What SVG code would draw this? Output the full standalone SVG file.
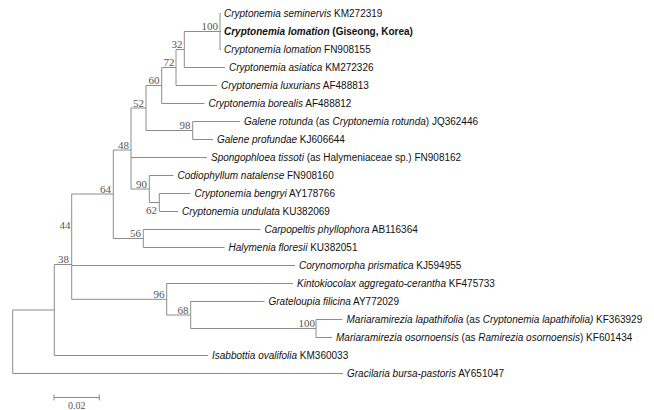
<svg xmlns="http://www.w3.org/2000/svg" width="654" height="410" viewBox="0 0 654 410">
<style>
.br{fill:none;stroke:#8c8c8c;stroke-width:1}
.lf{font-family:"Liberation Sans",Arial,sans-serif;font-size:10px;fill:#111}
.i{font-style:italic}
.b{font-weight:bold}
.bs{font-family:"Liberation Serif","Times New Roman",serif;font-size:11px;fill:#555;text-anchor:end}
.sc{font-family:"Liberation Serif","Times New Roman",serif;font-size:10px;fill:#555;text-anchor:middle}
</style>
<rect width="654" height="410" fill="#fff"/>
<g id="connectors" class="br">
<path d="M12.7 310V373.5M12.7 310H54.3M12.7 373.5H343"/>
<path d="M54.3 264.5V355.5M54.3 264.5H71.7M54.3 355.5H208"/>
<path d="M71.7 194V299.3M71.7 299.3H166.7M71.7 265.5H295M71.7 194H113.3"/>
<path d="M113.3 150V238.5M113.3 150H131M113.3 238.5H143.3"/>
<path d="M131 108V189M131 108H146M131 157.5H207M131 189H149.3"/>
<path d="M146 85.5V130.5M146 85.5H161.7M146 130.5H192.7"/>
<path d="M161.7 67.5V103.5M161.7 67.5H176M161.7 103.5H204.5"/>
<path d="M176 49.5V85.5M176 49.5H184.3M176 85.5H217"/>
<path d="M184.3 31.5V67.5M184.3 31.5H220M184.3 67.5H225"/>
<path d="M220 13.5V49.5M220 13.5H221M220 31.5H221M220 49.5H221"/>
<path d="M192.7 121.5V139.5M192.7 121.5H240M192.7 139.5H213"/>
<path d="M149.3 175.5V202.5M149.3 175.5H173.5M149.3 202.5H159.3"/>
<path d="M159.3 193.5V211.5M159.3 193.5H190.5M159.3 211.5H178"/>
<path d="M143.3 229.5V247.5M143.3 229.5H260.5M143.3 247.5H224.5"/>
<path d="M166.7 283.5V315M166.7 283.5H293M166.7 315H190.7"/>
<path d="M190.7 301.5V328.5M190.7 301.5H264.5M190.7 328.5H316"/>
<path d="M316 319.5V337.5M316 319.5H342.5M316 337.5H332"/>
</g>
<g id="n100a"><text class="bs" x="218" y="30">100</text></g>
<g id="n32"><text class="bs" x="182.5" y="48">32</text></g>
<g id="n72"><text class="bs" x="174.5" y="66">72</text></g>
<g id="n60"><text class="bs" x="159.5" y="84">60</text></g>
<g id="n52"><text class="bs" x="144" y="106.5">52</text></g>
<g id="n98"><text class="bs" x="190.5" y="129">98</text></g>
<g id="n48"><text class="bs" x="129" y="148.5">48</text></g>
<g id="n90"><text class="bs" x="147" y="187.5">90</text></g>
<g id="n62"><text class="bs" x="157" y="213.5">62</text></g>
<g id="n56"><text class="bs" x="141" y="237">56</text></g>
<g id="n64"><text class="bs" x="111" y="192.5">64</text></g>
<g id="n44"><text class="bs" x="70.5" y="228.5">44</text></g>
<g id="n38"><text class="bs" x="69" y="263">38</text></g>
<g id="n96"><text class="bs" x="164.5" y="298">96</text></g>
<g id="n68"><text class="bs" x="188.5" y="313.5">68</text></g>
<g id="n100b"><text class="bs" x="315" y="327">100</text></g>
<g id="t0"><text class="lf" x="224" y="17"><tspan class="i">Cryptonemia seminervis</tspan> KM272319</text></g>
<g id="t1"><text class="lf b" x="224" y="35"><tspan class="i">Cryptonemia lomation</tspan> (Giseong, Korea)</text></g>
<g id="t2"><text class="lf" x="224" y="53"><tspan class="i">Cryptonemia lomation</tspan> FN908155</text></g>
<g id="t3"><text class="lf" x="229" y="71"><tspan class="i">Cryptonemia asiatica</tspan> KM272326</text></g>
<g id="t4"><text class="lf" x="221" y="89"><tspan class="i">Cryptonemia luxurians</tspan> AF488813</text></g>
<g id="t5"><text class="lf" x="208.5" y="107"><tspan class="i">Cryptonemia borealis</tspan> AF488812</text></g>
<g id="t6"><text class="lf" x="244" y="125"><tspan class="i">Galene rotunda</tspan> (as <tspan class="i">Cryptonemia rotunda</tspan>) JQ362446</text></g>
<g id="t7"><text class="lf" x="217" y="143"><tspan class="i">Galene profundae</tspan> KJ606644</text></g>
<g id="t8"><text class="lf" x="211" y="161"><tspan class="i">Spongophloea tissoti</tspan> (as Halymeniaceae sp.) FN908162</text></g>
<g id="t9"><text class="lf" x="177.5" y="179"><tspan class="i">Codiophyllum natalense</tspan> FN908160</text></g>
<g id="t10"><text class="lf" x="194.5" y="197"><tspan class="i">Cryptonemia bengryi</tspan> AY178766</text></g>
<g id="t11"><text class="lf" x="182" y="215"><tspan class="i">Cryptonemia undulata</tspan> KU382069</text></g>
<g id="t12"><text class="lf" x="264.5" y="233"><tspan class="i">Carpopeltis phyllophora</tspan> AB116364</text></g>
<g id="t13"><text class="lf" x="228.5" y="251"><tspan class="i">Halymenia floresii</tspan> KU382051</text></g>
<g id="t14"><text class="lf" x="299" y="269"><tspan class="i">Corynomorpha prismatica</tspan> KJ594955</text></g>
<g id="t15"><text class="lf" x="297" y="287"><tspan class="i">Kintokiocolax aggregato-cerantha</tspan> KF475733</text></g>
<g id="t16"><text class="lf" x="268.5" y="305"><tspan class="i">Grateloupia filicina</tspan> AY772029</text></g>
<g id="t17"><text class="lf" x="346.5" y="323"><tspan class="i">Mariaramirezia lapathifolia</tspan> (as <tspan class="i">Cryptonemia lapathifolia)</tspan> KF363929</text></g>
<g id="t18"><text class="lf" x="336" y="341"><tspan class="i">Mariaramirezia osornoensis</tspan> (as <tspan class="i">Ramirezia osornoensis</tspan>) KF601434</text></g>
<g id="t19"><text class="lf" x="212" y="359"><tspan class="i">Isabbottia ovalifolia</tspan> KM360033</text></g>
<g id="t20"><text class="lf" x="347" y="377"><tspan class="i">Gracilaria bursa-pastoris</tspan> AY651047</text></g>
<g id="scale">
<path class="br" d="M54 397.5H99.3M54 394.5V400.5M99.3 394.5V400.5"/>
<text class="sc" x="76.7" y="408.5">0.02</text>
</g>
</svg>
